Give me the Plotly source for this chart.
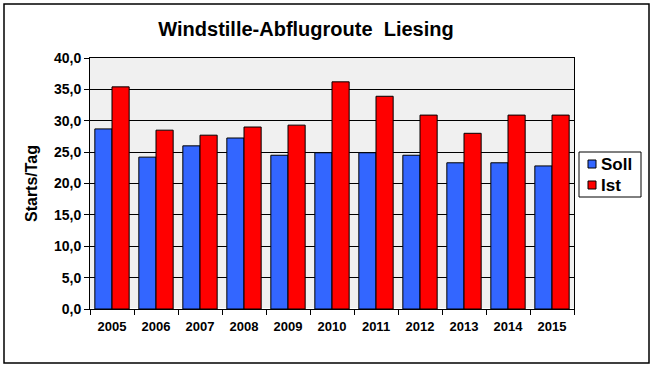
import plotly.graph_objects as go

years = ["2005", "2006", "2007", "2008", "2009", "2010", "2011", "2012", "2013", "2014", "2015"]
soll = [28.7, 24.2, 26.0, 27.25, 24.5, 24.9, 24.9, 24.5, 23.3, 23.3, 22.8]
ist = [35.4, 28.5, 27.7, 29.0, 29.3, 36.2, 33.9, 30.9, 28.0, 30.9, 30.9]
y_ticks = [0, 5, 10, 15, 20, 25, 30, 35, 40]
y_labels = ["0,0", "5,0", "10,0", "15,0", "20,0", "25,0", "30,0", "35,0", "40,0"]
series_names = ["Soll", "Ist"]
series_colors = ["#3366FF", "#FF0000"]

FONT = "Arial, Liberation Sans, sans-serif"

fig = go.Figure()
for name, vals, col in zip(series_names, [soll, ist], series_colors):
    fig.add_trace(go.Bar(name=name, x=years, y=vals,
                         marker=dict(color=col, line=dict(color="black", width=1))))

L, R, T, B = 90, 83, 58, 62
W, H = 657, 371
pw, ph = W - L - R, H - T - B

def px_x(p):
    return (p - L) / pw

def px_y(p):
    return (H - B - p) / ph

fig.update_layout(
    width=W, height=H,
    margin=dict(l=L, r=R, t=T, b=B, autoexpand=False),
    paper_bgcolor="white",
    plot_bgcolor="#F0F0F0",
    barmode="group",
    bargap=0.22,
    bargroupgap=0,
    font=dict(family=FONT, color="black"),
    title=dict(text="Windstille-Abflugroute  Liesing", xref="container", x=306 / W, xanchor="center",
               yref="container", y=1 - 29 / H, yanchor="middle",
               font=dict(size=20, family=FONT, color="black", weight="bold")),
    showlegend=False,
)
fig.update_xaxes(
    type="category",
    tickson="boundaries",
    ticks="outside", ticklen=5, tickcolor="black",
    ticklabelstandoff=5,
    showline=True, linecolor="black", linewidth=1, mirror=True,
    showgrid=False,
    tickfont=dict(size=13, family=FONT, color="black", weight="bold"),
    automargin=False,
)
fig.update_yaxes(
    range=[0, 40],
    tickvals=y_ticks,
    ticktext=y_labels,
    ticks="outside", ticklen=5, tickcolor="black",
    showline=True, linecolor="black", linewidth=1, mirror=True,
    showgrid=True, gridcolor="black", gridwidth=1,
    tickfont=dict(size=14, family=FONT, color="black", weight="bold"),
    title=dict(text="Starts/Tag", font=dict(size=16, family=FONT, color="black", weight="bold"), standoff=12),
    automargin=False,
)
# outer chart border
fig.add_shape(type="rect", xref="paper", yref="paper",
              x0=px_x(4), x1=px_x(649), y0=px_y(363), y1=px_y(4),
              line=dict(color="black", width=1.5), fillcolor="rgba(0,0,0,0)", layer="below")

# legend (drawn manually to match the compact box)
fig.add_shape(type="rect", xref="paper", yref="paper",
              x0=px_x(579), x1=px_x(641), y0=px_y(197), y1=px_y(152),
              line=dict(color="black", width=1), fillcolor="white")
for i, (name, col) in enumerate(zip(series_names, series_colors)):
    cy = 164 + i * 21
    fig.add_shape(type="rect", xref="paper", yref="paper",
                  x0=px_x(588), x1=px_x(596), y0=px_y(cy + 4), y1=px_y(cy - 4),
                  line=dict(color="black", width=1), fillcolor=col)
    fig.add_annotation(xref="paper", yref="paper", x=px_x(599), y=px_y(cy + 0.5),
                       xanchor="left", yanchor="middle", showarrow=False, text=name,
                       font=dict(size=17, family=FONT, color="black", weight="bold"))

fig.write_html("out.html", config={"displayModeBar": False},
               post_script="document.body.style.margin='0';document.body.style.overflow='hidden';")
